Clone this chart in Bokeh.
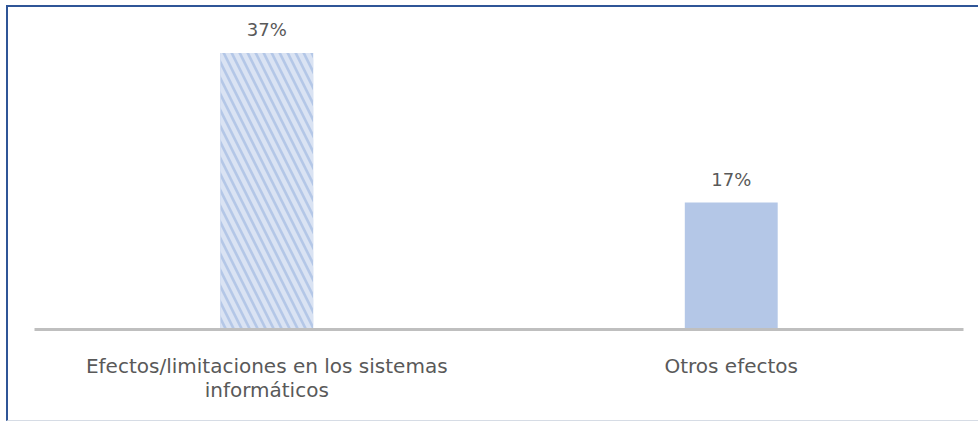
from bokeh.plotting import figure
from bokeh.models import ColumnDataSource, FactorRange
from bokeh.core.properties import value
from bokeh.embed import file_html
from bokeh.resources import INLINE

categories = ["Efectos/limitaciones en los sistemas\ninformáticos", "Otros efectos"]
values = [37, 17]
labels = ["37%", "17%"]
hatches = ["\\", " "]

src = ColumnDataSource(dict(cat=categories, val=values, lab=labels, hatch=hatches))

FONT = "DejaVu Sans"
p = figure(x_range=FactorRange(*categories), y_range=(0, 41.5),
           frame_width=929, frame_height=310, output_backend="svg", toolbar_location=None,
           min_border_left=26, min_border_right=15, min_border_top=12, min_border_bottom=91)
p.styles = {"border-top": "2px solid #2F5597", "border-left": "2px solid #2F5597",
            "border-bottom": "1px solid #D6DCE5", "margin-left": "6px", "margin-top": "5px"}

p.vbar(x="cat", top="val", width=0.2, source=src, fill_color="#B4C7E7", line_color=None,
       hatch_pattern="hatch", hatch_color="#DAE3F3", hatch_weight=4.5, hatch_scale=16)

p.text(x="cat", y="val", text="lab", source=src, text_align="center", text_baseline="bottom",
       y_offset=-13, text_font=value(FONT), text_font_size="18px", text_color="#595959")

p.outline_line_color = None
p.grid.grid_line_color = None
p.yaxis.visible = False
p.xaxis.axis_line_color = "#BFBFBF"
p.xaxis.axis_line_width = 3
p.xaxis.major_tick_line_color = None
p.xaxis.minor_tick_line_color = None
p.xaxis.major_label_text_font = FONT
p.xaxis.major_label_text_font_size = "20px"
p.xaxis.major_label_text_color = "#595959"
p.xaxis.major_label_standoff = 18
p.xaxis.major_label_text_line_height = 1.02

open("out.html", "w").write(file_html(p, INLINE))
